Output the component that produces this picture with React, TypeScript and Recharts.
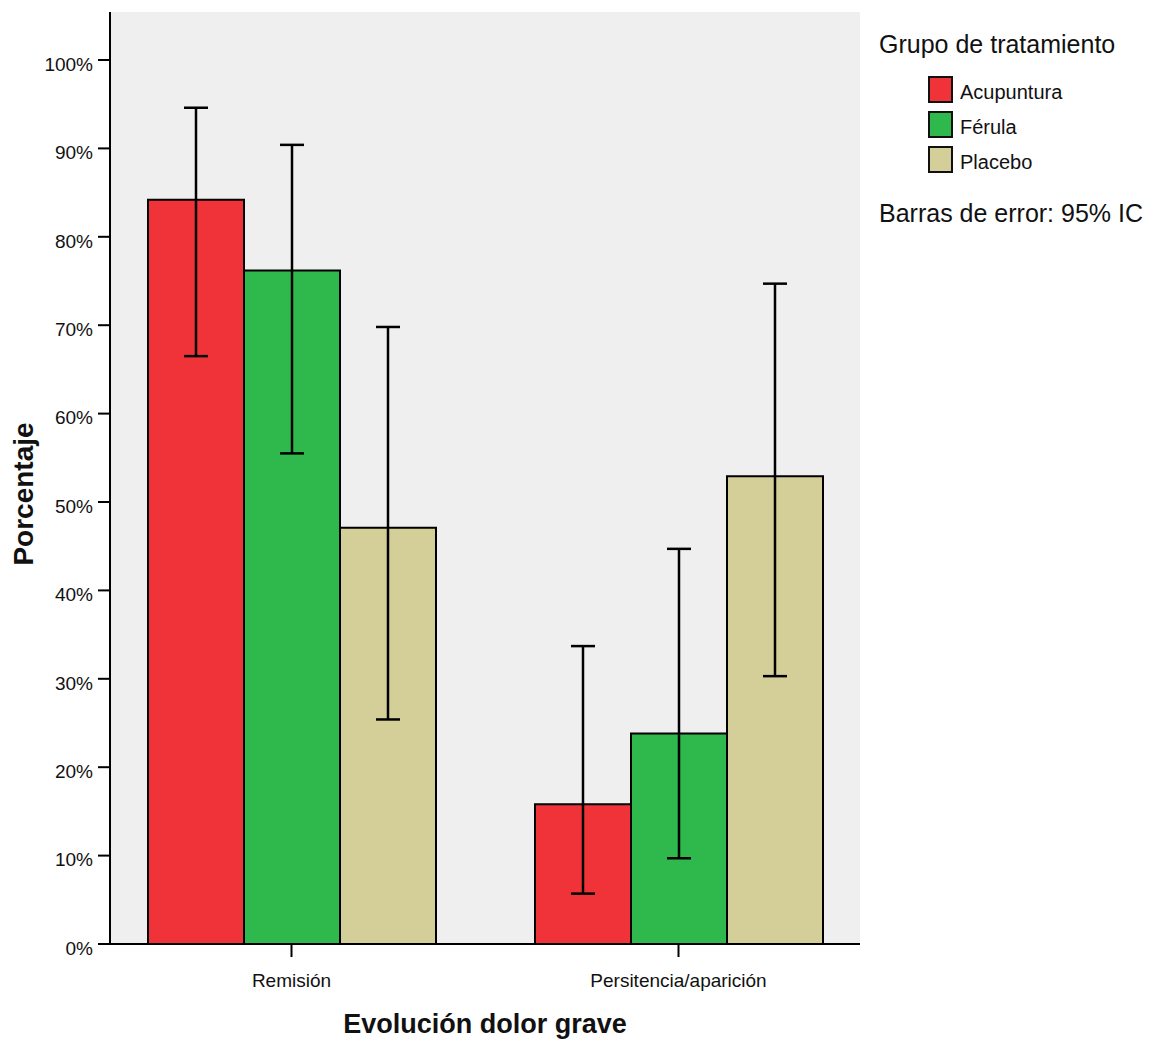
import { BarChart, Bar, XAxis, YAxis, CartesianGrid, ErrorBar } from 'recharts';

const categories = ['Remisión', 'Persitencia/aparición'];
const groups = ['Acupuntura', 'Férula', 'Placebo'];
const colors = ['#f03339', '#2fb84b', '#d4ce98'];

// percentages per group, one entry per category
const acupuntura = [84.2, 15.8];
const ferula = [76.2, 23.8];
const placebo = [47.1, 52.9];

// 95% confidence bounds
const acupunturaLow = [66.5, 5.7];
const acupunturaHigh = [94.6, 33.7];
const ferulaLow = [55.5, 9.7];
const ferulaHigh = [90.4, 44.7];
const placeboLow = [25.4, 30.3];
const placeboHigh = [69.8, 74.7];

const yTicks = [0, 10, 20, 30, 40, 50, 60, 70, 80, 90, 100];

const series = [
  { values: acupuntura, low: acupunturaLow, high: acupunturaHigh },
  { values: ferula, low: ferulaLow, high: ferulaHigh },
  { values: placebo, low: placeboLow, high: placeboHigh },
];

const data = categories.map((cat, i) => {
  const row: Record<string, any> = { cat };
  series.forEach((s, k) => {
    row[`v${k}`] = s.values[i];
    row[`e${k}`] = [s.values[i] - s.low[i], s.high[i] - s.values[i]];
  });
  return row;
});

const font = 'Arial, "Liberation Sans", sans-serif';

// rotated y-axis title, baseline at x=33
const YTitle = () => (
  <text
    x={33}
    y={494}
    transform="rotate(-90, 33, 494)"
    textAnchor="middle"
    fill="#111"
    fontSize={28}
    fontWeight="bold"
    fontFamily={font}
  >
    Porcentaje
  </text>
);

export default function App() {
  return (
    <div style={{ position: 'relative', width: 1154, height: 1040, background: '#fff', fontFamily: font }}>
      <BarChart
        width={1154}
        height={1040}
        data={data}
        margin={{ top: 12, right: 294, bottom: 0, left: 0 }}
        barCategoryGap={50}
        barGap={0}
        style={{ position: 'absolute', left: -8, top: -8 }}
      >
        <CartesianGrid horizontal={false} vertical={false} fill="#efefef" />
        <XAxis
          dataKey="cat"
          padding={{ left: -12, right: -12 }}
          axisLine={{ stroke: '#000', strokeWidth: 2 }}
          tickLine={{ stroke: '#000', strokeWidth: 2 }}
          tickSize={13}
          tick={{ fill: '#111', fontSize: 19, fontFamily: font, dy: 15 }}
          height={96}
          label={{ value: 'Evolución dolor grave', position: 'insideBottom', offset: 0, dy: -7, fill: '#111', fontSize: 27, fontWeight: 'bold', fontFamily: font }}
        />
        <XAxis xAxisId="top" orientation="top" dataKey="cat" tick={false} tickLine={false} height={0} axisLine={{ stroke: '#000', strokeWidth: 1.5 }} />
        <YAxis
          domain={[0, 105.43]}
          ticks={yTicks}
          allowDataOverflow
          tickFormatter={(v: number) => `${v}%`}
          axisLine={{ stroke: '#000', strokeWidth: 2 }}
          tickLine={{ stroke: '#000', strokeWidth: 2 }}
          tickSize={12}
          tick={{ fill: '#111', fontSize: 19, fontFamily: font, dx: -3, dy: 4 }}
          width={110}
          label={<YTitle />}
        />
        <YAxis yAxisId="right" orientation="right" domain={[0, 105.43]} tick={false} tickLine={false} width={0} axisLine={{ stroke: '#000', strokeWidth: 1.5 }} />
        {groups.map((g, k) => (
          <Bar key={g} dataKey={`v${k}`} name={g} fill={colors[k]} stroke="#000" strokeWidth={2} isAnimationActive={false}>
            <ErrorBar dataKey={`e${k}`} width={12} stroke="#000" strokeWidth={2.5} direction="y" />
          </Bar>
        ))}
      </BarChart>

      <div style={{ position: 'absolute', left: 871, top: 24, fontSize: 25, lineHeight: 1, color: '#111', whiteSpace: 'nowrap' }}>Grupo de tratamiento</div>
      {groups.map((g, k) => (
        <div key={g} style={{ position: 'absolute', left: 920, top: 68 + k * 35, height: 27, display: 'flex', alignItems: 'center' }}>
          <div style={{ width: 25, height: 27, background: colors[k], border: '2px solid #111', boxSizing: 'border-box' }} />
          <span style={{ marginLeft: 7, fontSize: 20, lineHeight: 1, color: '#111', paddingTop: 4 }}>{g}</span>
        </div>
      ))}
      <div style={{ position: 'absolute', left: 871, top: 193, fontSize: 25, lineHeight: 1, color: '#111', whiteSpace: 'nowrap' }}>Barras de error: 95% IC</div>
    </div>
  );
}
